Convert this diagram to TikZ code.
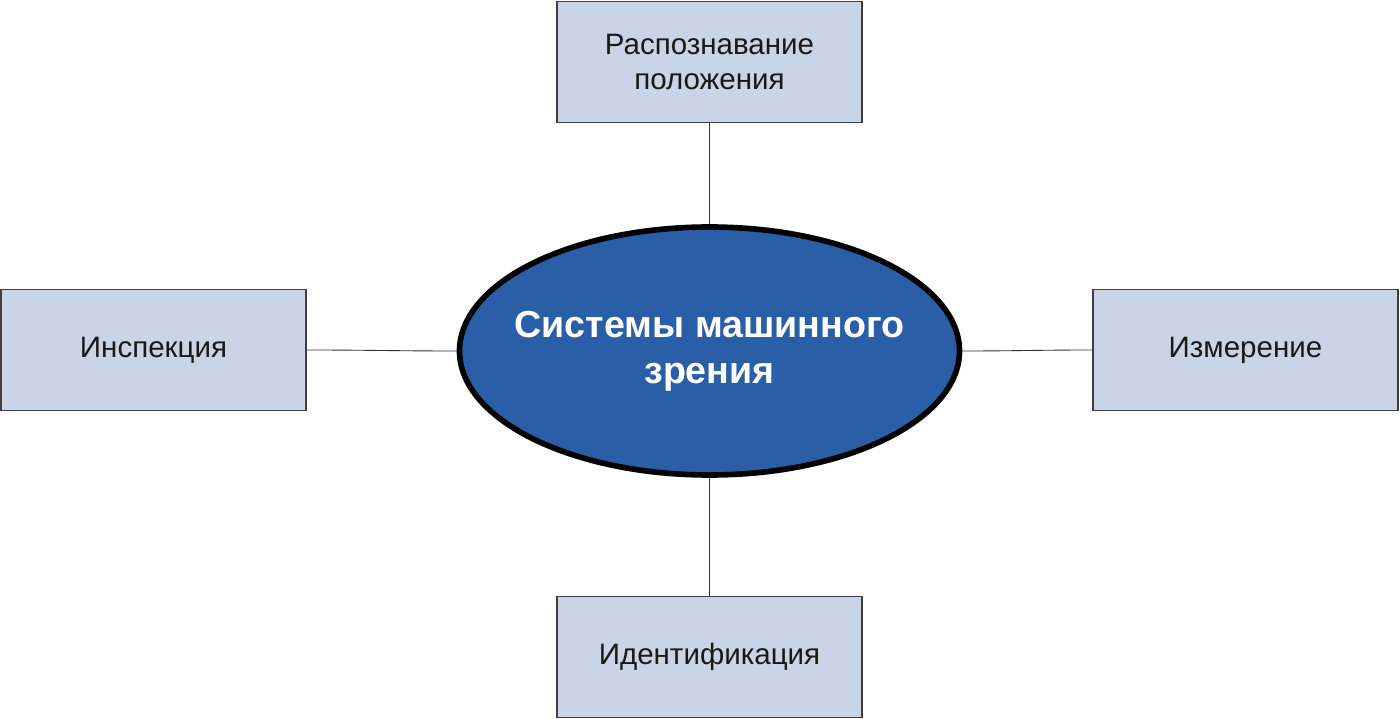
\documentclass[tikz,border=0pt]{standalone}
\usepackage{fontspec}
\setmainfont{Liberation Sans}
\usepackage{xcolor}
\usetikzlibrary{positioning,shapes.geometric}
\definecolor{boxfill}{HTML}{C9D5E6}
\definecolor{boxline}{HTML}{3F3F3F}
\definecolor{corefill}{HTML}{2A5EA6}

\begin{document}
\begin{tikzpicture}[
  areabox/.style={draw=boxline,line width=0.6pt,fill=boxfill,minimum width=6.1cm,minimum height=2.42cm,align=center,font=\fontsize{16.8}{19.4}\selectfont,text=black!90},
  link/.style={draw=black!80,line width=0.5pt}]
\useasboundingbox (-14.19,-7.36) rectangle (13.81,7.02);
\node[ellipse,draw=black,line width=3.2pt,fill=corefill,inner xsep=-0.4cm,inner ysep=0pt,minimum width=10.0cm,minimum height=4.96cm,align=center,text=white,font=\fontsize{21.4}{26}\selectfont\bfseries] (msv) at (0,0) {Системы машинного\\зрения};
\node[areabox] (pos) at (0,5.78) {Распознавание\\положения};
\node[areabox] (insp) at (-11.12,0.02) {Инспекция};
\node[areabox] (meas) at (10.72,0.02) {Измерение};
\node[areabox] (ident) at (0,-6.12) {Идентификация};
\draw[link] (pos.south) -- (msv.north);
\draw[link] (msv.south) -- (ident.north);
\draw[link] (insp.east) to[out=0,in=180] (msv.west);
\draw[link] (msv.east) to[out=0,in=180] (meas.west);
\end{tikzpicture}
\end{document}
